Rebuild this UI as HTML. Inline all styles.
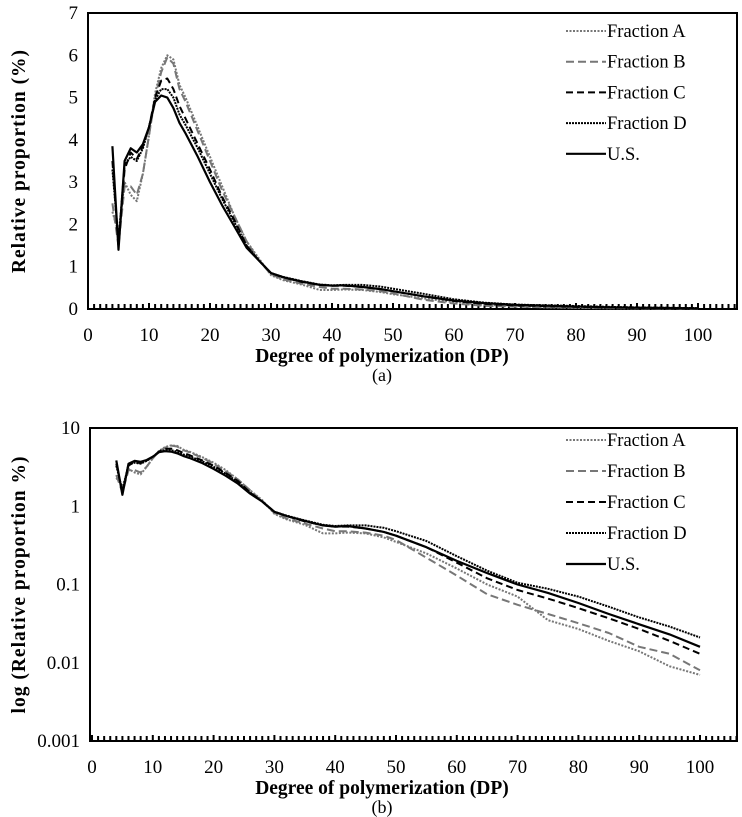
<!DOCTYPE html>
<html><head><meta charset="utf-8">
<style>
body{margin:0;background:#fff;}
svg{display:block;font-family:"Liberation Serif",serif;}
</style></head>
<body>
<svg id="chart" width="742" height="817" viewBox="0 0 742 817" xmlns="http://www.w3.org/2000/svg"></svg>
<script>
const dp = [4,5,6,7,8,9,10,11,12,13,14,15,16,18,20,22,24,26,28,30,32,35,38,40,42,45,48,50,55,60,65,70,75,80,85,90,95,100];
const fracA = [2.3,1.8,3.0,2.7,2.55,3.2,4.1,5.1,5.7,6.0,5.9,5.3,5.0,4.3,3.6,2.9,2.2,1.6,1.2,0.8,0.68,0.58,0.45,0.45,0.46,0.45,0.4,0.35,0.25,0.16,0.1,0.07,0.035,0.027,0.019,0.014,0.009,0.007];
const fracB = [2.5,1.5,2.9,2.9,2.7,3.2,4.1,5.0,5.6,5.95,5.8,5.2,4.9,4.2,3.5,2.8,2.2,1.6,1.15,0.82,0.7,0.6,0.52,0.48,0.48,0.46,0.42,0.37,0.22,0.13,0.075,0.055,0.042,0.032,0.024,0.016,0.013,0.008];
const fracC = [3.5,1.5,3.3,3.7,3.55,3.85,4.3,5.0,5.4,5.45,5.2,4.8,4.5,3.9,3.3,2.65,2.1,1.5,1.15,0.85,0.75,0.64,0.57,0.55,0.55,0.52,0.47,0.42,0.3,0.19,0.12,0.085,0.066,0.05,0.037,0.027,0.019,0.013];
const fracD = [3.3,1.6,3.4,3.6,3.5,3.8,4.3,4.95,5.2,5.2,5.0,4.6,4.35,3.8,3.2,2.6,2.05,1.5,1.15,0.85,0.76,0.66,0.58,0.56,0.57,0.57,0.53,0.48,0.36,0.23,0.15,0.105,0.088,0.07,0.052,0.038,0.029,0.021];
const fracUS = [3.85,1.4,3.5,3.8,3.7,3.9,4.3,4.9,5.05,5.0,4.75,4.4,4.15,3.6,3.0,2.45,1.95,1.45,1.15,0.85,0.75,0.65,0.57,0.55,0.56,0.52,0.47,0.42,0.3,0.2,0.14,0.1,0.078,0.058,0.042,0.031,0.023,0.016];
const seriesNames = ["Fraction A","Fraction B","Fraction C","Fraction D","U.S."];
const xTicks = [0,10,20,30,40,50,60,70,80,90,100];
const yTicksLin = [0,1,2,3,4,5,6,7];
const yTicksLog = ["0.001","0.01","0.1","1","10"];

const NS="http://www.w3.org/2000/svg";
const svg=document.getElementById('chart');
function mk(tag,attrs,parent){const e=document.createElementNS(NS,tag);for(const k in attrs)e.setAttribute(k,attrs[k]);(parent||svg).appendChild(e);return e;}
const styles=[
 {stroke:"#777",w:2,dash:"2,1.5"},
 {stroke:"#777",w:2,dash:"8,4"},
 {stroke:"#000",w:2,dash:"7,4"},
 {stroke:"#000",w:2,dash:"2,1"},
 {stroke:"#000",w:2.2,dash:""}
];
const allSeries=[fracA,fracB,fracC,fracD,fracUS];

function panel(cfg){
  const g=mk('g',{});
  
  
  const L=cfg.left,R=cfg.right,T=cfg.top,B=cfg.bottom;
  const xs=v=>cfg.x0+v*cfg.xk;
  const ys=cfg.ys;
  const frame=mk('rect',{x:L,y:T,width:R-L,height:B-T,fill:"none",stroke:"#000","stroke-width":2},g);
  
  
  for(let v=0;v<=106;v++){const x=xs(v);if(x>R)break;const t=mk('line',{x1:x,x2:x,y1:B,y2:B-(v%10==0?6:5),stroke:"#000","stroke-width":2},g);
    }
  xTicks.forEach(v=>{const t=mk('text',{x:xs(v),y:B+32,"text-anchor":"middle","font-size":19},g);t.textContent=v;
    });
  cfg.yticks.forEach(v=>{const t=mk('text',{x:L-10,y:ys(+v)+6,"text-anchor":"end","font-size":19},g);t.textContent=v;
    });
  const xt=mk('text',{x:382,y:B+53,"text-anchor":"middle","font-size":19.5,"font-weight":"bold"},g);xt.textContent="Degree of polymerization (DP)";
  
  const yt=mk('text',{x:0,y:0,"text-anchor":"middle","font-size":19.5,"font-weight":"bold","letter-spacing":"1",transform:`translate(25,${(T+B)/2}) rotate(-90)`},g);yt.textContent=cfg.ytitle;
  
  const cap=mk('text',{x:382,y:B+72,"text-anchor":"middle","font-size":18},g);cap.textContent=cfg.caption;
  
  allSeries.forEach((s,i)=>{
    const d=s.map((v,j)=>(j?'L':'M')+xs(dp[j]).toFixed(1)+','+ys(v).toFixed(1)).join(' ');
    const p=mk('path',{d:d,fill:"none",stroke:styles[i].stroke,"stroke-width":styles[i].w,"stroke-dasharray":styles[i].dash,"stroke-linejoin":"round"},g);
    
    
  });
  seriesNames.forEach((n,i)=>{
    const y=cfg.legendY+i*cfg.legendStep;
    const lg=mk('g',{},g);
    
    mk('line',{x1:566,x2:606,y1:y,y2:y,stroke:styles[i].stroke,"stroke-width":styles[i].w,"stroke-dasharray":styles[i].dash},lg);
    const t=mk('text',{x:607,y:y+6,"font-size":18.5},lg);t.textContent=n;
  });
}
panel({name:'panel-a-linear',left:88,right:737,top:13,bottom:309,x0:88,xk:6.1,
  ys:v=>309-v*(296/7),yticks:yTicksLin,ytitle:"Relative proportion (%)",caption:"(a)",legendY:31,legendStep:30.7});
panel({name:'panel-b-log',left:90,right:737,top:428,bottom:741,x0:92,xk:6.08,
  ys:v=>741-(Math.log10(v)+3)*78.25,yticks:yTicksLog,ytitle:"log (Relative proportion %)",caption:"(b)",legendY:440,legendStep:31});
</script>
</body></html>
